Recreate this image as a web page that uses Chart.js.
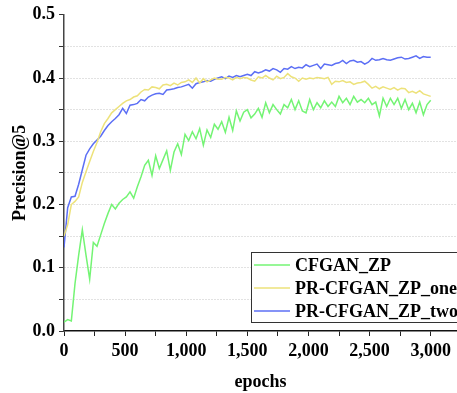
<!DOCTYPE html>
<html lang="en">
<head>
    <meta charset="UTF-8">
    <title>Precision@5 vs epochs</title>
    <script src="https://cdn.jsdelivr.net/npm/chart.js"></script>
    <style>
        body {
            margin: 0;
            padding: 0;
            background: #fff;
        }
        #wrap {
            width: 457px;
            height: 393px;
        }
    </style>
</head>
<body>
    <div id="wrap">
        <canvas id="precisionChart" width="457" height="393"></canvas>
    </div>

    <script>
        // epochs 0..3000, one sample every 30 epochs
        const epochStep = 30;
        const epochs = Array.from({ length: 101 }, (_, i) => i * epochStep);

        // tick positions (labels only on every other x tick / every other y tick)
        const xTicks = [0, 250, 500, 750, 1000, 1250, 1500, 1750, 2000, 2250, 2500, 2750, 3000];
        const yTicks = [0, 0.05, 0.1, 0.15, 0.2, 0.25, 0.3, 0.35, 0.4, 0.45, 0.5];

        const seriesNames = ['CFGAN_ZP', 'PR-CFGAN_ZP_one', 'PR-CFGAN_ZP_two'];

        const cfganZp = [
            0.014, 0.018, 0.016, 0.075, 0.120, 0.160, 0.120, 0.082, 0.140, 0.134,
            0.152, 0.170, 0.186, 0.200, 0.193, 0.202, 0.208, 0.212, 0.220, 0.210,
            0.228, 0.244, 0.262, 0.270, 0.246, 0.277, 0.257, 0.271, 0.285, 0.254,
            0.283, 0.296, 0.279, 0.311, 0.301, 0.315, 0.304, 0.320, 0.294, 0.318,
            0.306, 0.327, 0.319, 0.331, 0.314, 0.338, 0.317, 0.348, 0.332, 0.346,
            0.350, 0.337, 0.343, 0.352, 0.338, 0.361, 0.345, 0.358, 0.350, 0.343,
            0.358, 0.353, 0.366, 0.350, 0.364, 0.348, 0.345, 0.366, 0.350, 0.361,
            0.353, 0.364, 0.355, 0.362, 0.355, 0.371, 0.361, 0.368, 0.358, 0.371,
            0.362, 0.366, 0.361, 0.368, 0.358, 0.362, 0.340, 0.368, 0.355, 0.368,
            0.358, 0.368, 0.352, 0.366, 0.350, 0.360, 0.345, 0.362, 0.342, 0.358,
            0.365
        ];

        const prCfganOne = [
            0.150, 0.168, 0.200, 0.205, 0.212, 0.235, 0.252, 0.268, 0.284, 0.298,
            0.315, 0.328, 0.336, 0.345, 0.350, 0.355, 0.360, 0.364, 0.366, 0.370,
            0.372, 0.378, 0.382, 0.381, 0.386, 0.385, 0.383, 0.389, 0.390, 0.388,
            0.392, 0.389, 0.393, 0.394, 0.397, 0.393, 0.400, 0.392, 0.399, 0.394,
            0.397, 0.400, 0.398, 0.398, 0.401, 0.400, 0.397, 0.401, 0.399, 0.401,
            0.400, 0.397, 0.395, 0.402, 0.400, 0.404, 0.400, 0.397, 0.403, 0.399,
            0.401, 0.407, 0.402, 0.400, 0.395, 0.400, 0.398, 0.400, 0.399, 0.401,
            0.400, 0.399, 0.401, 0.390, 0.395, 0.394, 0.396, 0.393, 0.394, 0.390,
            0.392, 0.393, 0.395, 0.390, 0.384, 0.387, 0.383, 0.386, 0.384, 0.382,
            0.385, 0.381, 0.384, 0.383, 0.377, 0.379, 0.376, 0.380, 0.375, 0.373,
            0.371
        ];

        const prCfganTwo = [
            0.132, 0.195, 0.212, 0.213, 0.232, 0.255, 0.278, 0.288, 0.296, 0.302,
            0.308, 0.317, 0.325, 0.331, 0.336, 0.342, 0.352, 0.344, 0.357, 0.358,
            0.360, 0.366, 0.364, 0.370, 0.373, 0.375, 0.376, 0.374, 0.381, 0.382,
            0.383, 0.385, 0.386, 0.388, 0.390, 0.384, 0.391, 0.393, 0.394, 0.396,
            0.395, 0.398, 0.400, 0.402, 0.399, 0.403, 0.401, 0.404, 0.402, 0.404,
            0.406, 0.404, 0.410, 0.408, 0.410, 0.413, 0.411, 0.415, 0.413, 0.409,
            0.415, 0.414, 0.418, 0.415, 0.417, 0.416, 0.421, 0.418, 0.420, 0.422,
            0.415, 0.422, 0.421, 0.420, 0.423, 0.424, 0.428, 0.423, 0.427, 0.428,
            0.425, 0.426, 0.422, 0.425, 0.431, 0.428, 0.429, 0.431, 0.429, 0.428,
            0.430, 0.432, 0.433, 0.430, 0.431, 0.433, 0.435, 0.431, 0.434, 0.433,
            0.433
        ];

        const seriesColors = ['#74f474', '#ede27a', '#5c6ff5'];

        const FONT = { family: '"Liberation Serif", "Times New Roman", serif', size: 18, weight: 'bold' };

        function toPoints(values) {
            return values.map((v, i) => ({ x: epochs[i], y: v }));
        }

        // legend drawn inside the plot, lower right, like the original figure
        const boxLegend = {
            id: 'boxLegend',
            afterDatasetsDraw(chart) {
                const ctx = chart.ctx;
                const left = 251.5, top = 252.5, right = 470, bottom = 322.5;
                ctx.save();
                ctx.fillStyle = '#fff';
                ctx.fillRect(left, top, right - left, bottom - top);
                ctx.strokeStyle = '#333';
                ctx.lineWidth = 1;
                ctx.strokeRect(left, top, right - left, bottom - top);
                ctx.font = 'bold 18px "Liberation Serif", "Times New Roman", serif';
                ctx.textBaseline = 'middle';
                chart.data.datasets.forEach((ds, i) => {
                    const y = 265 + i * 23;
                    ctx.strokeStyle = ds.borderColor;
                    ctx.lineWidth = 1.5;
                    ctx.beginPath();
                    ctx.moveTo(254, y);
                    ctx.lineTo(290, y);
                    ctx.stroke();
                    ctx.fillStyle = '#000';
                    ctx.fillText(ds.label, 295, y + 1);
                });
                ctx.restore();
            }
        };

        const ctx = document.getElementById('precisionChart').getContext('2d');
        const precisionChart = new Chart(ctx, {
            type: 'line',
            data: {
                datasets: seriesNames.map((name, i) => ({
                    label: name,
                    data: toPoints([cfganZp, prCfganOne, prCfganTwo][i]),
                    borderColor: seriesColors[i],
                    backgroundColor: seriesColors[i],
                    borderWidth: 1.5,
                    pointRadius: 0,
                    tension: 0,
                    fill: false
                }))
            },
            options: {
                responsive: false,
                animation: false,
                layout: { padding: { top: 11, right: 0, left: 0, bottom: 0 } },
                plugins: {
                    legend: { display: false },
                    tooltip: { enabled: false }
                },
                scales: {
                    x: {
                        type: 'linear',
                        min: 0,
                        max: 3215,
                        afterBuildTicks: axis => {
                            axis.ticks = xTicks.map(v => ({ value: v }));
                        },
                        afterFit: scale => { scale.height = 62; },
                        ticks: {
                            autoSkip: false,
                            maxRotation: 0,
                            padding: 5,
                            color: '#000',
                            font: FONT,
                            callback: v => (v % 500 === 0 ? v.toLocaleString('en-US') : '')
                        },
                        grid: {
                            drawOnChartArea: false,
                            drawTicks: true,
                            tickLength: 5,
                            tickColor: '#222'
                        },
                        border: { color: '#111', width: 1.5 },
                        title: {
                            display: true,
                            text: 'epochs',
                            color: '#000',
                            font: FONT,
                            padding: { top: 0, bottom: 0 }
                        }
                    },
                    y: {
                        min: 0,
                        max: 0.5,
                        afterBuildTicks: axis => {
                            axis.ticks = yTicks.map(v => ({ value: v }));
                        },
                        afterFit: scale => { scale.width = 64; },
                        ticks: {
                            autoSkip: false,
                            padding: 4,
                            color: '#000',
                            font: FONT,
                            callback: v => (Math.round(v * 100) % 10 === 0 ? v.toFixed(1) : '')
                        },
                        grid: {
                            color: c => {
                                const v = c.tick ? Math.round(c.tick.value * 100) : 0;
                                return (v === 0 || v === 50) ? 'rgba(0,0,0,0)' : '#c4c4c4';
                            },
                            lineWidth: 1,
                            drawTicks: true,
                            tickLength: 5,
                            tickColor: '#333',
                            tickBorderDash: []
                        },
                        border: { color: '#444', width: 1.5, dash: [1, 2] },
                        title: {
                            display: true,
                            text: 'Precision@5',
                            color: '#000',
                            font: FONT,
                            padding: { top: 10, bottom: 0 }
                        }
                    }
                }
            },
            plugins: [boxLegend]
        });
    </script>
</body>
</html>
